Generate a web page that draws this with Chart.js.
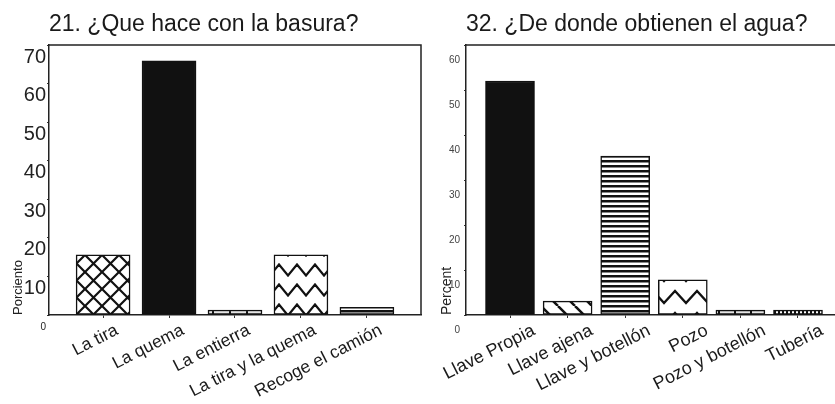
<!DOCTYPE html>
<html>
<head>
<meta charset="utf-8">
<script src="https://cdn.jsdelivr.net/npm/chart.js@4.4.0/dist/chart.umd.min.js"></script>
<style>
  html, body { margin: 0; padding: 0; background: #fff; width: 835px; height: 404px; overflow: hidden; }
  canvas { position: absolute; top: 0; }
  #basura { left: 0; }
  #agua { left: 422px; }
</style>
</head>
<body>
<canvas id="basura" width="425" height="404"></canvas>
<canvas id="agua" width="424" height="404"></canvas>
<script>
// 21. ¿Que hace con la basura?
var basuraLabels = ['La tira', 'La quema', 'La entierra', 'La tira y la quema', 'Recoge el camión'];
var basuraValues = [15.6, 65.9, 1.3, 15.6, 2.0];
var basuraTicks = [0, 10, 20, 30, 40, 50, 60, 70];

// 32. ¿De donde obtienen el agua?
var aguaLabels = ['Llave Propia', 'Llave ajena', 'Llave y botellón', 'Pozo', 'Pozo y botellón', 'Tubería'];
var aguaValues = [52.0, 3.1, 35.3, 7.8, 1.1, 1.1];
var aguaTicks = [0, 10, 20, 30, 40, 50, 60];

var FONT = '"Liberation Sans", Arial, sans-serif';
var INK = '#111';

// little pattern tiles, black on white
function tile(w, h, draw, bg) {
    var c = document.createElement('canvas');
    c.width = w; c.height = h;
    var g = c.getContext('2d');
    g.fillStyle = bg || '#fff';
    g.fillRect(0, 0, w, h);
    g.strokeStyle = INK;
    g.fillStyle = INK;
    draw(g, w, h);
    return g.createPattern(c, 'repeat');
}

function crossHatch(s, lw) {
    return tile(s, s, function (g, w, h) {
        g.lineWidth = lw;
        g.beginPath();
        for (var k = -1; k <= 1; k++) {
            g.moveTo(k * w, 0); g.lineTo(k * w + w, h);
            g.moveTo(k * w + w, 0); g.lineTo(k * w, h);
        }
        g.stroke();
    });
}

function zigzag(w, h, amp, lw) {
    return tile(w, h, function (g) {
        g.lineWidth = lw;
        g.lineJoin = 'miter';
        g.beginPath();
        for (var r = -1; r <= 1; r++) {
            var y0 = r * h + (h - amp) / 2;
            g.moveTo(-w / 2, y0);
            g.lineTo(0, y0 + amp);
            g.lineTo(w / 2, y0);
            g.lineTo(w, y0 + amp);
            g.lineTo(1.5 * w, y0);
        }
        g.stroke();
    });
}

function backslash(s, lw) {
    return tile(s, s, function (g, w, h) {
        g.lineWidth = lw;
        g.beginPath();
        for (var k = -1; k <= 1; k++) {
            g.moveTo(k * w, 0); g.lineTo(k * w + w, h);
        }
        g.stroke();
    });
}

function hStripes(p, band) {
    return tile(8, p, function (g, w) {
        g.fillRect(0, 0, w, band);
    });
}

function vStripes(p, band) {
    return tile(p, 8, function (g, w, h) {
        g.fillRect(0, 0, band, h);
    });
}

function ticksLight(p) {
    return tile(p, 8, function (g, w, h) {
        g.fillRect(Math.floor(w / 2), 0, 2, h);
    }, '#e4e4e4');
}

var framePlugin = {
    id: 'frame',
    afterDraw: function (chart) {
        var a = chart.chartArea, ctx = chart.ctx;
        ctx.save();
        ctx.strokeStyle = '#222';
        ctx.lineWidth = 1.5;
        ctx.beginPath();
        ctx.moveTo(a.left, a.top);
        ctx.lineTo(a.right, a.top);
        ctx.lineTo(a.right, a.bottom);
        ctx.stroke();
        ctx.restore();
    }
};

function buildChart(id, o) {
    var pts = o.labels.map(function (l, i) { return { x: i, y: o.values[i] }; });
    return new Chart(document.getElementById(id), {
        type: 'bar',
        data: {
            datasets: [{
                data: pts,
                backgroundColor: o.fills,
                borderColor: INK,
                borderWidth: 1.5,
                borderSkipped: false,
                barThickness: o.barWidth
            }]
        },
        options: {
            responsive: false,
            animation: false,
            layout: { padding: { left: 0, right: o.padRight, top: 0, bottom: 0 } },
            plugins: {
                legend: { display: false },
                tooltip: { enabled: false },
                title: {
                    display: true,
                    text: o.title,
                    align: 'start',
                    fullSize: false,
                    color: '#1a1a1a',
                    font: { family: FONT, size: 23, weight: 'normal' },
                    padding: { top: 11, bottom: 6.4 }
                }
            },
            scales: {
                x: {
                    type: 'linear',
                    offset: false,
                    min: -o.edge,
                    max: o.labels.length - 1 + o.edge,
                    afterBuildTicks: function (s) {
                        s.ticks = o.labels.map(function (l, i) { return { value: i }; });
                    },
                    afterFit: function (s) {
                        s.height = 89;
                        s.paddingLeft = 0;
                        s.paddingRight = 0;
                    },
                    ticks: {
                        autoSkip: false,
                        minRotation: o.rot,
                        maxRotation: o.rot,
                        padding: 2,
                        labelOffset: o.xShift,
                        color: '#1a1a1a',
                        font: { family: FONT, size: o.xFont },
                        callback: function (v) { return o.labels[v]; }
                    },
                    grid: { display: true, offset: false, drawOnChartArea: false, tickLength: 3, color: '#333' },
                    border: { color: '#222', width: 1.5 }
                },
                y: {
                    min: o.ticks[0],
                    max: o.ticks[o.ticks.length - 1],
                    afterBuildTicks: function (s) {
                        s.ticks = o.ticks.map(function (v) { return { value: v }; });
                    },
                    afterFit: function (s) { s.width = o.axisWidth; },
                    ticks: {
                        padding: o.yPad,
                        labelOffset: o.yOffset,
                        color: o.yColor,
                        font: function (c) {
                            var sz = (c.tick && c.tick.value === 0) ? 10 : o.yFont;
                            return { family: FONT, size: sz };
                        }
                    },
                    grid: { display: true, drawOnChartArea: false, tickLength: 2, color: '#333' },
                    border: { color: '#222', width: 1.5 },
                    title: {
                        display: true,
                        text: o.yTitle,
                        align: 'start',
                        color: '#222',
                        font: { family: FONT, size: o.yTitleFont },
                        padding: { top: o.yTitlePad, bottom: 0 }
                    }
                }
            }
        },
        plugins: [framePlugin]
    });
}

buildChart('basura', {
    title: '21. ¿Que hace con la basura?',
    labels: basuraLabels,
    values: basuraValues,
    ticks: basuraTicks,
    fills: [crossHatch(17, 2.2), INK, ticksLight(17), zigzag(18, 20, 11, 2.2), hStripes(5, 2.5)],
    barWidth: 54,
    edge: 0.82,
    padRight: 4,
    rot: 27,
    xFont: 17.5,
    xShift: 14,
    yFont: 20,
    yPad: 1,
    yOffset: 12,
    yColor: '#222',
    axisWidth: 49,
    yTitle: 'Porciento',
    yTitleFont: 13,
    yTitlePad: 11
});

buildChart('agua', {
    title: '32. ¿De donde obtienen el agua?',
    labels: aguaLabels,
    values: aguaValues,
    ticks: aguaTicks,
    fills: [INK, backslash(17, 2.5), hStripes(5, 2.5), zigzag(22, 22, 12, 2.2), ticksLight(16), vStripes(4, 2)],
    barWidth: 49,
    edge: 0.764,
    padRight: 4,
    rot: 27,
    xFont: 18,
    xShift: 24,
    yFont: 10,
    yPad: 4,
    yOffset: 15,
    yColor: '#444',
    axisWidth: 44,
    yTitle: 'Percent',
    yTitleFont: 14,
    yTitlePad: 16.6
});
</script>
</body>
</html>
